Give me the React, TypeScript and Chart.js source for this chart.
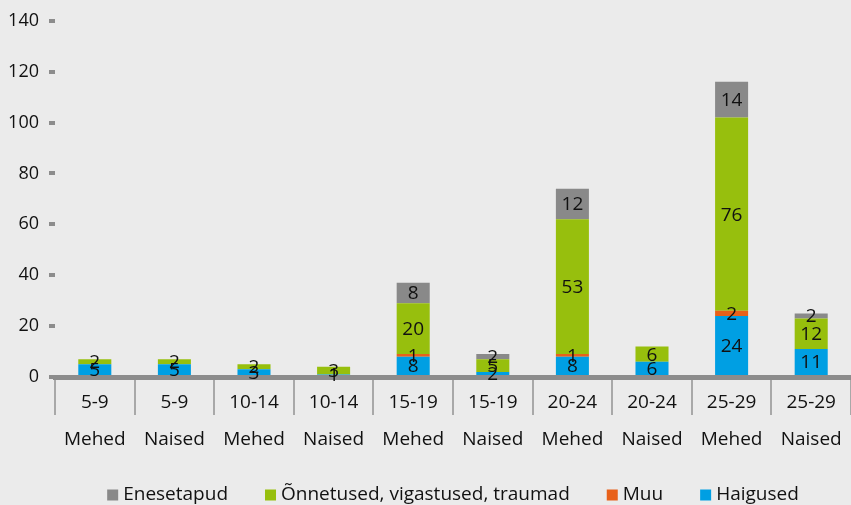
import React, { useEffect, useRef } from "react";
import { Chart, registerables } from "chart.js";

Chart.register(...registerables);

const ageGroups = ["5-9", "5-9", "10-14", "10-14", "15-19", "15-19", "20-24", "20-24", "25-29", "25-29"];
const sexes = ["Mehed", "Naised", "Mehed", "Naised", "Mehed", "Naised", "Mehed", "Naised", "Mehed", "Naised"];

const haigused = [5, 5, 3, 1, 8, 2, 8, 6, 24, 11];
const muu = [0, 0, 0, 0, 1, 0, 1, 0, 2, 0];
const onnetused = [2, 2, 2, 3, 20, 5, 53, 6, 76, 12];
const enesetapud = [0, 0, 0, 0, 8, 2, 12, 0, 14, 2];

const yTicks = [0, 20, 40, 60, 80, 100, 120, 140];

const FONT = "'Open Sans', 'Noto Sans', sans-serif";
const FS = 19;
const BG = "#ebebeb";

const dataLabelPlugin = {
  id: "segLabels",
  afterDatasetsDraw(chart: any) {
    const ctx = chart.ctx;
    ctx.save();
    ctx.font = `${FS}px ${FONT}`;
    ctx.fillStyle = "#111111";
    ctx.textAlign = "center";
    ctx.textBaseline = "middle";
    chart.data.datasets.forEach((ds: any, di: number) => {
      const meta = chart.getDatasetMeta(di);
      meta.data.forEach((el: any, i: number) => {
        const v = ds.data[i];
        if (!v) return;
        const y = (el.y + el.base) / 2;
        ctx.fillText(String(v), el.x, y + 1);
      });
    });
    ctx.restore();
  },
};

const legendPlugin = {
  id: "customLegend",
  afterDraw(chart: any) {
    const ctx = chart.ctx;
    ctx.save();
    ctx.font = `${FS}px ${FONT}`;
    ctx.textBaseline = "middle";
    ctx.textAlign = "left";
    const items = chart.data.datasets.slice().reverse();
    const box = 11;
    const gapText = 5;
    const gapItem = 37;
    const widths = items.map((d: any) => box + gapText + ctx.measureText(d.label).width);
    const total = widths.reduce((a: number, b: number) => a + b, 0) + gapItem * (items.length - 1);
    let x = (chart.chartArea.left + chart.chartArea.right) / 2 - total / 2;
    const yc = 495;
    items.forEach((d: any, i: number) => {
      ctx.fillStyle = d.backgroundColor;
      ctx.fillRect(x, yc - box / 2, box, box);
      ctx.fillStyle = "#111111";
      ctx.fillText(d.label, x + box + gapText, yc);
      x += widths[i] + gapItem;
    });
    ctx.restore();
  },
};

export default function App() {
  const ref = useRef<HTMLCanvasElement>(null);
  useEffect(() => {
    document.body.style.margin = "0";
    document.body.style.background = BG;
    const labels = ageGroups.map((a, i) => [a, sexes[i]]);
    const chart = new Chart(ref.current!, {
      type: "bar",
      data: {
        labels,
        datasets: [
          { label: "Haigused", data: haigused, backgroundColor: "#009fe3" },
          { label: "Muu", data: muu, backgroundColor: "#e8611a" },
          { label: "Õnnetused, vigastused, traumad", data: onnetused, backgroundColor: "#97bf0d" },
          { label: "Enesetapud", data: enesetapud, backgroundColor: "#898989" },
        ],
      },
      options: {
        animation: false,
        responsive: false,
        maintainAspectRatio: false,
        layout: { padding: { top: 20, right: 0, bottom: 0, left: 0 } },
        datasets: { bar: { categoryPercentage: 1, barPercentage: 0.415 } },
        plugins: {
          legend: { display: false },
          tooltip: { enabled: false },
        },
        scales: {
          x: {
            stacked: true,
            offset: true,
            grid: {
              display: true,
              offset: true,
              drawOnChartArea: false,
              drawTicks: true,
              tickLength: 38,
              color: "#a8a8a8",
              lineWidth: 2,
            },
            border: { display: true, color: "#8c8c8c", width: 5 },
            ticks: {
              font: { family: FONT, size: FS, lineHeight: 37 / FS },
              color: "#111111",
              padding: -31,
              maxRotation: 0,
              autoSkip: false,
            },
            afterFit(s: any) {
              s.height = 128;
            },
          },
          y: {
            stacked: true,
            min: 0,
            max: 140,
            afterBuildTicks(s: any) {
              s.ticks = yTicks.map((v) => ({ value: v }));
            },
            grid: {
              display: true,
              drawOnChartArea: false,
              drawTicks: true,
              tickLength: 6,
              lineWidth: 4,
              color: "#8c8c8c",
            },
            border: { display: false },
            ticks: {
              font: { family: FONT, size: 18 },
              color: "#111111",
              padding: 10,
            },
            afterFit(s: any) {
              s.width = 55;
            },
          },
        },
      },
      plugins: [dataLabelPlugin, legendPlugin],
    });
    return () => chart.destroy();
  }, []);
  return (
    <div style={{ position: "absolute", left: 0, top: 0, width: 851, height: 505, background: BG }}>
      <canvas ref={ref} width={851} height={505} style={{ width: 851, height: 505, display: "block" }} />
    </div>
  );
}
